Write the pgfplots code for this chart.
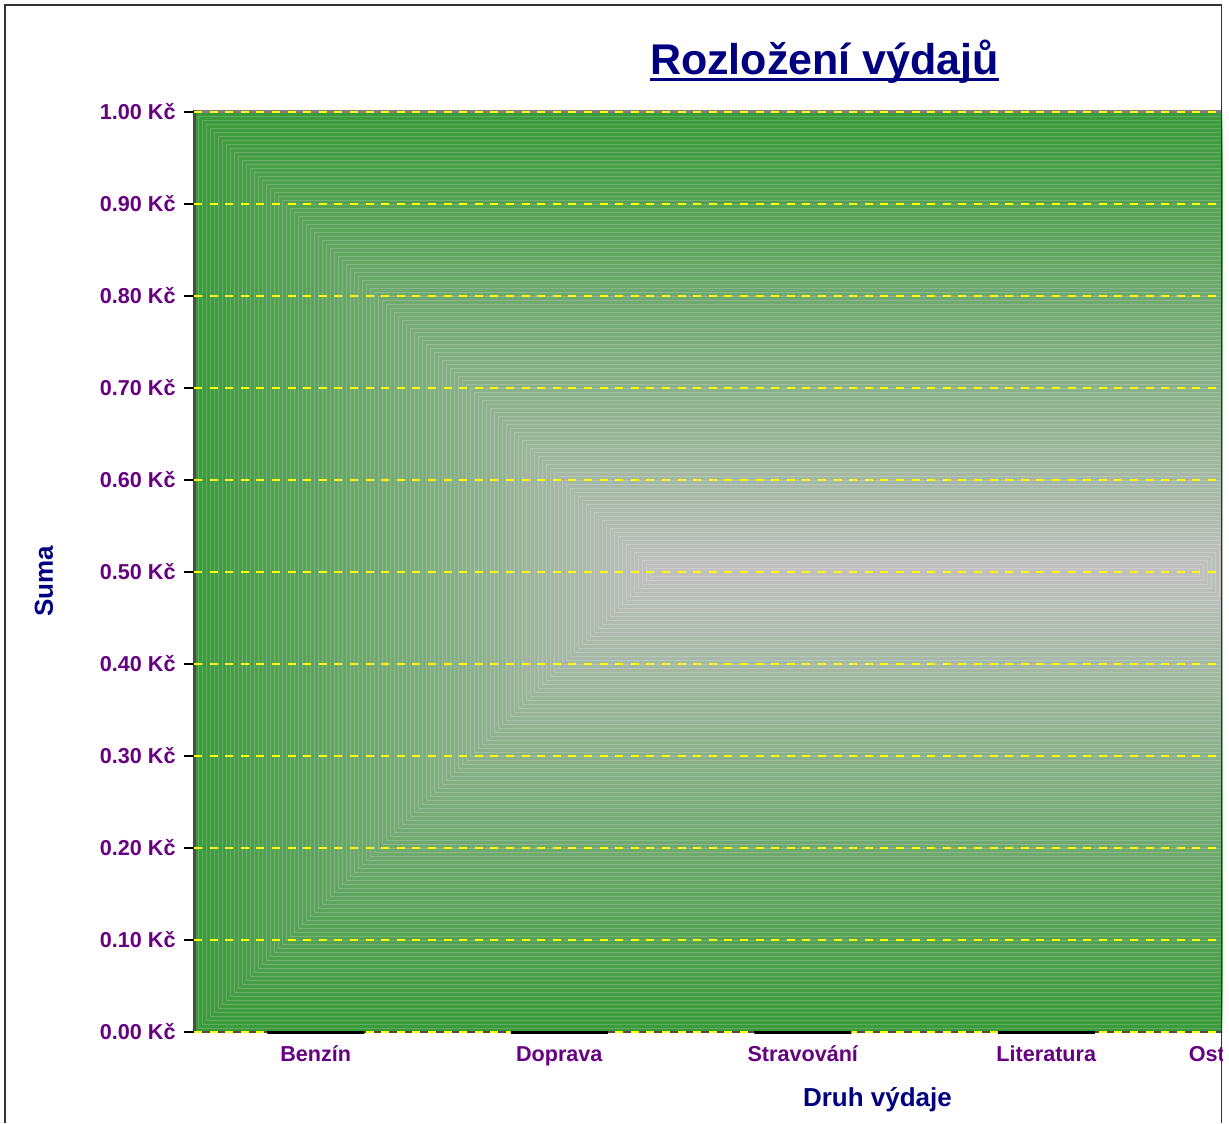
\documentclass[border=0pt]{standalone}
\usepackage{pgfplots}
\pgfplotsset{compat=1.18}
\usepackage{fontspec}
\setmainfont{Liberation Sans}
\definecolor{edgegreen}{RGB}{58,154,58}
\definecolor{centersilver}{RGB}{192,192,192}
\definecolor{navytxt}{RGB}{0,0,128}
\definecolor{purpletxt}{RGB}{102,0,128}
\definecolor{gridyellow}{RGB}{255,255,0}
\begin{document}
\begin{tikzpicture}[x=1pt,y=1pt]
\useasboundingbox (0,0) rectangle (614.5,561.5);
\clip (0,0) rectangle (611,561.5);
% plot-area background: rectangular gradient green -> silver
\foreach \i in {0,...,114}{
  \pgfmathsetmacro\t{100*\i/114}
  \filldraw[fill=centersilver!\t!edgegreen, draw=centersilver!\t!edgegreen!82!white, line width=0.35pt]
    (97+2*\i,45.5+2*\i) rectangle (827.5-2*\i,505.5-2*\i);
}
\draw[line width=1.5pt, black!50] (97,505.5) -- (827.5,505.5);
\draw[line width=1pt, black!70] (97,45.5) -- (827.5,45.5);
\draw[line width=1.5pt, black!70] (97,45.5) -- (97,506.25);
\begin{axis}[
  at={(97pt,45.5pt)}, anchor=south west,
  scale only axis, width=730.5pt, height=460pt,
  xmin=-0.5, xmax=5.5, ymin=0, ymax=1,
  clip=false,
  axis line style={draw=none},
  ytick={0,0.1,0.2,0.3,0.4,0.5,0.6,0.7,0.8,0.9,1},
  yticklabels={0.00 Kč,0.10 Kč,0.20 Kč,0.30 Kč,0.40 Kč,0.50 Kč,0.60 Kč,0.70 Kč,0.80 Kč,0.90 Kč,1.00 Kč},
  xtick={0,1,2,3,4},
  xticklabels={Benzín,Doprava,Stravování,Literatura,{\makebox[0pt][l]{\hspace*{-50.5pt}Ostatní}}},
  tick align=outside,
  major tick length=5pt,
  ytick style={black, line width=0.6pt},
  xtick style={draw=none},
  ymajorgrids,
  major grid style={gridyellow, line width=0.6pt, dash pattern=on 4pt off 3.8pt},
  ticklabel style={font=\bfseries\fontsize{10.8}{13}\selectfont, text=purpletxt, inner sep=0pt},
  yticklabel style={anchor=east, xshift=-4pt},
  xticklabel style={anchor=base, yshift=-9.5pt},
  xlabel={Druh výdaje},
  ylabel={Suma},
  label style={font=\bfseries\fontsize{13}{15}\selectfont, text=navytxt, inner sep=0pt},
  xlabel style={at={(rel axis cs:0.4678,-0.0815)}, anchor=base},
  ylabel style={at={(rel axis cs:-0.1027,0.49)}, anchor=center},
]
\addplot[ybar, bar width=48.5pt, draw=black, line width=1.5pt, fill=none]
  coordinates {(0,0) (1,0) (2,0) (3,0) (4,0)};
\end{axis}
\node[anchor=base, font=\bfseries\fontsize{21.5}{25}\selectfont, text=navytxt, inner sep=0pt] (T) at (412.25,524) {Rozložení výdajů};
\draw[navytxt, line width=1.2pt] ([yshift=-2.2pt]T.base west) -- ([yshift=-2.2pt]T.base east);
\draw[line width=0.75pt, black!80] (2.5,0) -- (2.5,559) -- (610.75,559) -- (610.75,0);
\end{tikzpicture}
\end{document}
